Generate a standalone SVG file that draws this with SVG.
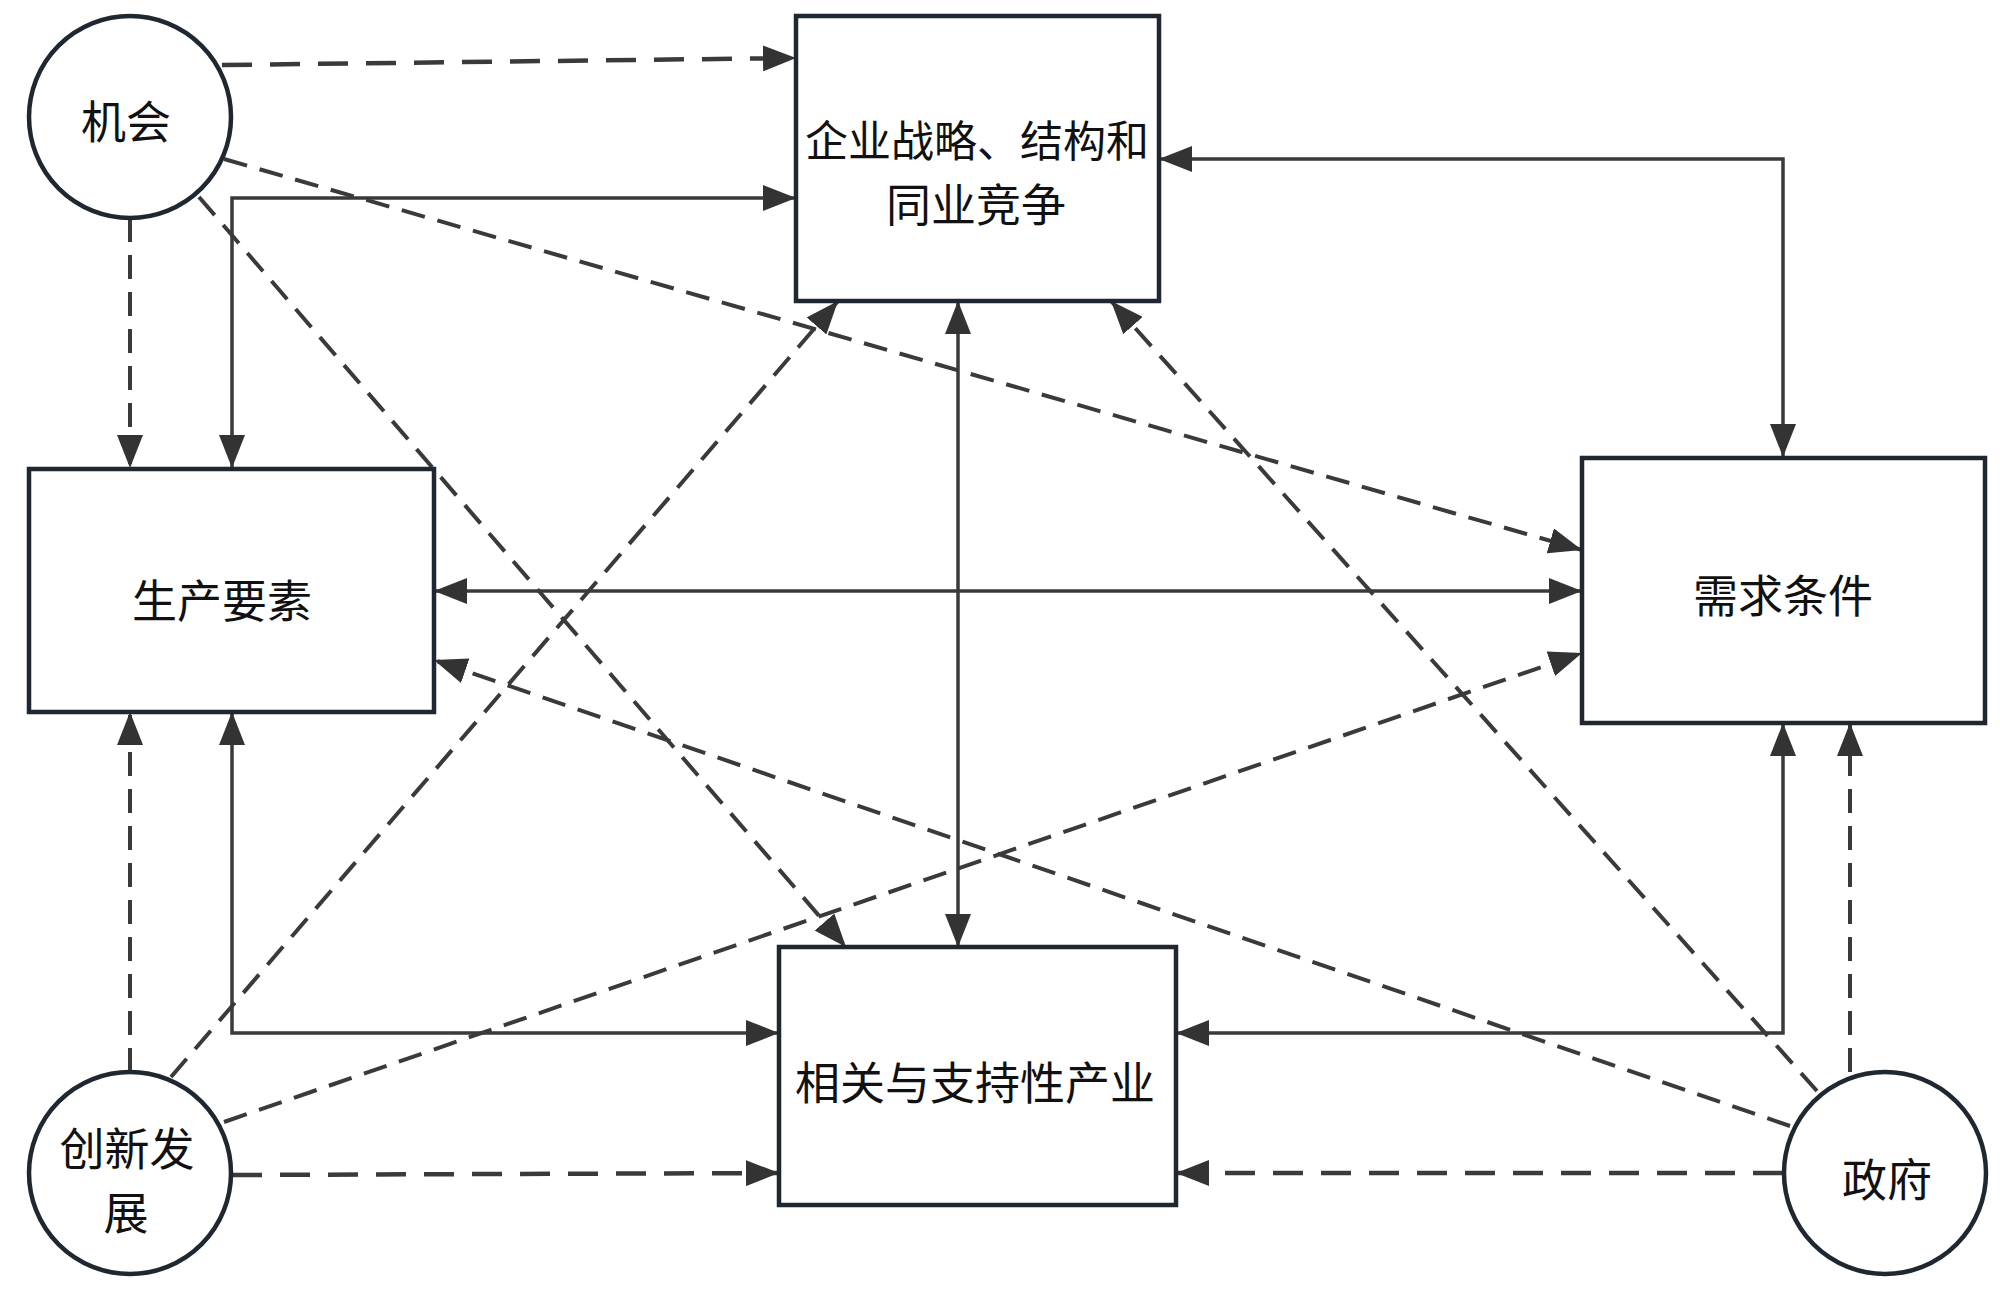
<svg xmlns="http://www.w3.org/2000/svg" width="2000" height="1301" viewBox="0 0 2000 1301">
<style>
.box{fill:#fff;stroke:#1f2830;stroke-width:4.5}
.circ{fill:#fff;stroke:#1f2830;stroke-width:4.5}
.lbl{font-family:"Noto Sans CJK SC","Noto Sans",sans-serif;font-size:45px;fill:#111;text-anchor:middle;dominant-baseline:central}
.sm{font-size:43px}
.sol{fill:none;stroke:#3a3a3a;stroke-width:3.5}
.dsh{fill:none;stroke:#3a3a3a;stroke-width:4;stroke-dasharray:24 13}
.dshh{fill:none;stroke:#3a3a3a;stroke-width:4.5;stroke-dasharray:30 18}
</style>
<defs>
<marker id="ah" markerUnits="userSpaceOnUse" markerWidth="33" markerHeight="26" refX="33" refY="13" orient="auto-start-reverse" viewBox="0 0 33 26">
<path d="M0,0 L33,13 L0,26 z" fill="#333"/>
</marker>
</defs>
<rect width="2000" height="1301" fill="#fff"/>
<g id="connectors">
<path class="sol" d="M232,468 L232,198 L796,198" marker-start="url(#ah)" marker-end="url(#ah)"/>
<path class="sol" d="M1159,159 L1783,159 L1783,457" marker-start="url(#ah)" marker-end="url(#ah)"/>
<path class="sol" d="M434,591 L1582,591" marker-start="url(#ah)" marker-end="url(#ah)"/>
<path class="sol" d="M958,301 L958,947" marker-start="url(#ah)" marker-end="url(#ah)"/>
<path class="sol" d="M232,712 L232,1033 L779,1033" marker-start="url(#ah)" marker-end="url(#ah)"/>
<path class="sol" d="M1783,723 L1783,1033 L1176,1033" marker-start="url(#ah)" marker-end="url(#ah)"/>
<path class="dshh" d="M222,65 L796,58" marker-end="url(#ah)"/>
<path class="dsh" d="M130,218 L130,468" marker-end="url(#ah)"/>
<path class="dsh" d="M224,159 L1582,550" marker-end="url(#ah)"/>
<path class="dsh" d="M199,197 L846,947" marker-end="url(#ah)"/>
<path class="dsh" d="M130,1072 L130,712" marker-end="url(#ah)"/>
<path class="dsh" d="M171,1077 L838,301" marker-end="url(#ah)"/>
<path class="dsh" d="M224,1122 L1582,653" marker-end="url(#ah)"/>
<path class="dshh" d="M232,1175 L779,1173" marker-end="url(#ah)"/>
<path class="dsh" d="M1850,1072 L1850,723" marker-end="url(#ah)"/>
<path class="dsh" d="M1817,1091 L1111,301" marker-end="url(#ah)"/>
<path class="dsh" d="M1790,1126 L434,660" marker-end="url(#ah)"/>
<path class="dshh" d="M1783,1173 L1176,1173" marker-end="url(#ah)"/>
</g>
<g id="node-qiye">
<rect class="box" x="796" y="16" width="363" height="285"/>
<text class="lbl"><tspan class="sm" x="977" y="138">企业战略、结构和</tspan><tspan x="976" y="202">同业竞争</tspan></text>
</g>
<g id="node-shengchan">
<rect class="box" x="29" y="469" width="405" height="243"/>
<text class="lbl" x="222" y="598">生产要素</text>
</g>
<g id="node-xuqiu">
<rect class="box" x="1582" y="458" width="403" height="265"/>
<text class="lbl" x="1783" y="593">需求条件</text>
</g>
<g id="node-xiangguan">
<rect class="box" x="779" y="947" width="397" height="258"/>
<text class="lbl" x="975" y="1080">相关与支持性产业</text>
</g>
<g id="node-jihui">
<circle class="circ" cx="130" cy="117" r="101"/>
<text class="lbl" x="126" y="119">机会</text>
</g>
<g id="node-chuangxin">
<circle class="circ" cx="130" cy="1173" r="101"/>
<text class="lbl"><tspan x="127" y="1146">创新发</tspan><tspan x="126" y="1210">展</tspan></text>
</g>
<g id="node-zhengfu">
<circle class="circ" cx="1885" cy="1173" r="101"/>
<text class="lbl" x="1887" y="1177">政府</text>
</g>
</svg>
